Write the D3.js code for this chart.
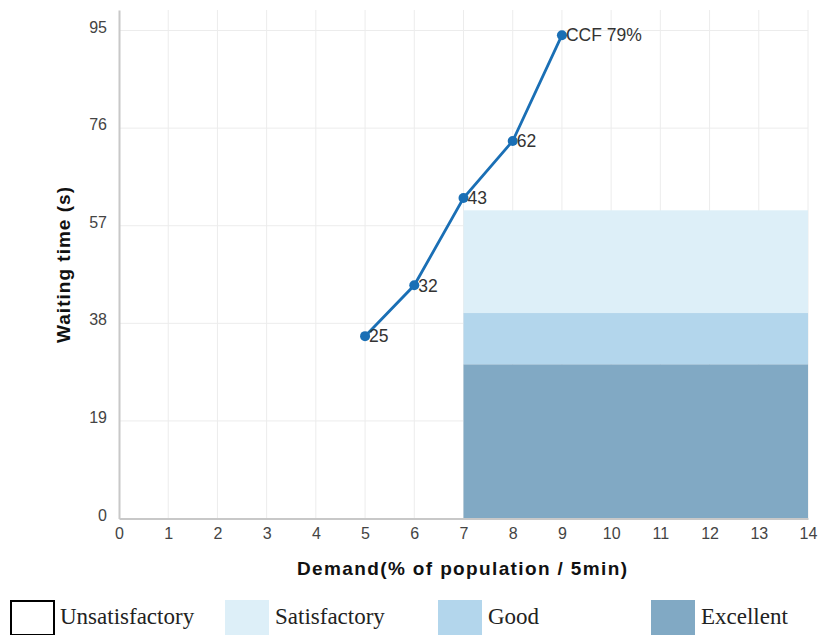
<!DOCTYPE html>
<html><head><meta charset="utf-8">
<script src="https://cdn.jsdelivr.net/npm/d3@7/dist/d3.min.js"></script>
<style>body{margin:0;background:#fff}svg{display:block}</style>
</head><body>
<svg id="c" width="819" height="635"></svg>
<script>
const demand = [5, 6, 7, 8, 9];
const waiting = [35.5, 45.4, 62.4, 73.5, 94.1];
const pointLabels = ["25", "32", "43", "62", "CCF 79%"];
const xTicks = [0,1,2,3,4,5,6,7,8,9,10,11,12,13,14];
const yTicks = [0, 19, 38, 57, 76, 95];
const zoneNames = ["Unsatisfactory", "Satisfactory", "Good", "Excellent"];
const zoneColors = ["#ffffff", "#ddeff8", "#b3d6ec", "#81a9c4"];
const zoneX0 = [null, 7, 7, 7];
const zoneX1 = [null, 14, 14, 14];
const zoneTop = [null, 60, 40, 30];
const zoneBottom = [null, 40, 30, 0];

const svg = d3.select("#c");
const m = {l: 119, r: 808, t: 10, b: 518.5};
const x = d3.scaleLinear().domain([0, 14]).range([m.l, m.r]);
const y = d3.scaleLinear().domain([0, 99]).range([m.b, m.t]);

// grid
const g = svg.append("g");
g.selectAll(".vx").data(xTicks.slice(1)).join("line")
  .attr("x1", d => x(d)).attr("x2", d => x(d)).attr("y1", m.t).attr("y2", m.b)
  .attr("stroke", "#ececec").attr("stroke-width", 1);
g.selectAll(".hy").data(yTicks.slice(1)).join("line")
  .attr("x1", m.l).attr("x2", m.r).attr("y1", d => y(d)).attr("y2", d => y(d))
  .attr("stroke", "#ececec").attr("stroke-width", 1);

// zones
const zones = d3.range(1, 4).map(i => ({i}));
svg.selectAll(".zone").data(zones).join("rect")
  .attr("x", d => x(zoneX0[d.i])).attr("width", d => x(zoneX1[d.i]) - x(zoneX0[d.i]))
  .attr("y", d => y(zoneTop[d.i])).attr("height", d => y(zoneBottom[d.i]) - y(zoneTop[d.i]))
  .attr("fill", d => zoneColors[d.i]);

// axes
const xAxis = svg.append("g").attr("transform", `translate(0,${m.b})`)
  .call(d3.axisBottom(x).tickValues(xTicks).tickSize(0).tickPadding(9).tickFormat(d3.format("d")));
const yAxis = svg.append("g").attr("transform", `translate(${m.l},0)`)
  .call(d3.axisLeft(y).tickValues(yTicks).tickSize(0).tickPadding(12).tickFormat(d3.format("d")));
[xAxis, yAxis].forEach(a => {
  a.select(".domain").attr("stroke", "#c8c8c8").attr("stroke-width", 2);
  a.selectAll("text").attr("font-family", "Liberation Sans, Arial, sans-serif")
    .attr("font-size", 16).attr("fill", "#444");
});
yAxis.selectAll("text").attr("dy", "0.1em");

// line
const pts = demand.map((d, i) => ({x: demand[i], y: waiting[i], label: pointLabels[i]}));
svg.append("path").datum(pts)
  .attr("d", d3.line().x(d => x(d.x)).y(d => y(d.y)))
  .attr("fill", "none").attr("stroke", "#1a6fb5").attr("stroke-width", 2.8);
svg.selectAll(".pt").data(pts).join("circle")
  .attr("cx", d => x(d.x)).attr("cy", d => y(d.y)).attr("r", 5).attr("fill", "#1a6fb5");
svg.selectAll(".pl").data(pts).join("text")
  .attr("x", d => x(d.x) + 4).attr("y", d => y(d.y)).attr("dy", "0.36em")
  .attr("font-family", "Liberation Sans, Arial, sans-serif").attr("font-size", 17.5)
  .attr("fill", "#333").text(d => d.label);

// axis titles
svg.append("text").attr("x", 462).attr("y", 575).attr("text-anchor", "middle")
  .attr("font-family", "Liberation Sans, Arial, sans-serif").attr("font-weight", "bold")
  .attr("font-size", 19).attr("fill", "#111")
  .attr("textLength", 330).attr("lengthAdjust", "spacing")
  .text("Demand(% of population / 5min)");
svg.append("text").attr("transform", "translate(70,265) rotate(-90)").attr("text-anchor", "middle")
  .attr("font-family", "Liberation Sans, Arial, sans-serif").attr("font-weight", "bold")
  .attr("font-size", 19).attr("fill", "#111")
  .attr("textLength", 156).attr("lengthAdjust", "spacing")
  .text("Waiting time (s)");

// legend
const legX = [10, 225, 438, 651];
const leg = svg.selectAll(".leg").data(zoneNames).join("g")
  .attr("transform", (d, i) => `translate(${legX[i]},600)`);
leg.append("rect").attr("x", (d, i) => i === 0 ? 1 : 0).attr("y", (d, i) => i === 0 ? 1 : 0)
  .attr("width", (d, i) => i === 0 ? 43 : 44).attr("height", (d, i) => i === 0 ? 34 : 35)
  .attr("fill", (d, i) => zoneColors[i])
  .attr("stroke", (d, i) => i === 0 ? "#000" : "none").attr("stroke-width", 2);
leg.append("text").attr("x", 50).attr("y", 24)
  .attr("font-family", "Liberation Serif, Times New Roman, serif").attr("font-size", 23)
  .attr("fill", "#222").text(d => d);
</script>
</body></html>
